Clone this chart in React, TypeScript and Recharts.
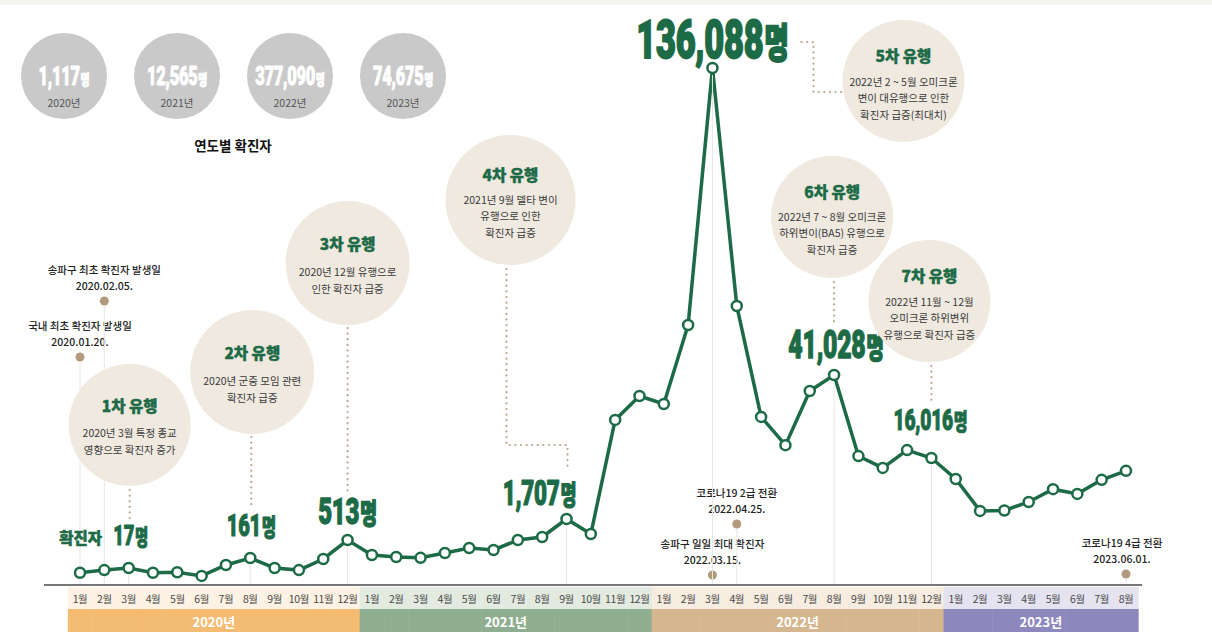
import React from 'react';
import { LineChart, Line, XAxis, YAxis, ReferenceDot } from 'recharts';

// ---------------- DATA ----------------
const periods = [
  '2020-01', '2020-02', '2020-03', '2020-04', '2020-05', '2020-06', '2020-07', '2020-08', '2020-09', '2020-10', '2020-11', '2020-12',
  '2021-01', '2021-02', '2021-03', '2021-04', '2021-05', '2021-06', '2021-07', '2021-08', '2021-09', '2021-10', '2021-11', '2021-12',
  '2022-01', '2022-02', '2022-03', '2022-04', '2022-05', '2022-06', '2022-07', '2022-08', '2022-09', '2022-10', '2022-11', '2022-12',
  '2023-01', '2023-02', '2023-03', '2023-04', '2023-05', '2023-06', '2023-07', '2023-08',
];
// monthly confirmed cases (labelled values exact, others estimated through the chart's scale)
const cases2020 = [8, 13, 17, 8, 9, 2, 60, 161, 17, 13, 147, 513];
const cases2021 = [220, 181, 165, 259, 357, 318, 513, 684, 1707, 854, 27500, 34700];
const cases2022 = [32300, 56500, 136088, 62400, 28400, 19900, 36200, 41028, 16600, 13700, 18400, 16016];
const cases2023 = [11100, 3600, 3700, 5700, 8700, 7600, 10900, 13000];
const cases = [...cases2020, ...cases2021, ...cases2022, ...cases2023];

const yearKeys = ['2020', '2021', '2022', '2023'];
const yearLabels = ['2020년', '2021년', '2022년', '2023년'];
const yearTotals = [1117, 12565, 377090, 74675];

const wavePeriods = ['2020-03', '2020-08', '2020-12', '2021-09', '2022-03', '2022-08', '2022-12'];
const waveTitles = ['1차 유행', '2차 유행', '3차 유행', '4차 유행', '5차 유행', '6차 유행', '7차 유행'];
const waveNotes = [
  ['2020년 3월 특정 종교', '영향으로 확진자 증가'],
  ['2020년 군중 모임 관련', '확진자 급증'],
  ['2020년 12월 유행으로', '인한 확진자 급증'],
  ['2021년 9월 델타 변이', '유행으로 인한', '확진자 급증'],
  ['2022년 2 ~ 5월 오미크론', '변이 대유행으로 인한', '확진자 급증(최대치)'],
  ['2022년 7 ~ 8월 오미크론', '하위변이(BA5) 유행으로', '확진자 급증'],
  ['2022년 11월 ~ 12월', '오미크론 하위변위', '유행으로 확진자 급증'],
];

const eventPeriods = ['2020-01', '2020-02', '2022-03', '2022-04', '2023-08'];
const eventTitles = ['국내 최초 확진자 발생일', '송파구 최초 확진자 발생일', '송파구 일일 최대 확진자', '코로나19 2급 전환', '코로나19 4급 전환'];
const eventDates = ['2020.01.20.', '2020.02.05.', '2022.03.15.', '2022.04.25.', '2023.06.01.'];

// ---------------- STYLE / LAYOUT ----------------
const GREEN = '#1c6b46';
const TAN = '#b49a7c';
const LEADER = '#b9a88f';
const BUBBLE = '#efe9e0';
const GRAY_CIRCLE = '#c9c9c9';
const KR = "'Noto Sans CJK KR', 'Noto Sans', sans-serif";
const NUM = "Roboto, 'Noto Sans', sans-serif";

const CHART_W = 1212;
const CHART_H = 639;
const MARGIN = { top: 68, right: 74, bottom: 14, left: 68 };
const XAXIS_H = 40;
const AXIS_Y = CHART_H - MARGIN.bottom - XAXIS_H;
const X_PAD = 12;
const STEP = (CHART_W - MARGIN.left - MARGIN.right - 2 * X_PAD) / (periods.length - 1);

const yearTints = ['#fdf2e3', '#e3ebe1', '#f6ece0', '#e5e3f0'];
const yearColors = ['#f4bb73', '#8fae8f', '#d6b68f', '#8c87bd'];

// infographic (non-linear) value scale: knots of the drawing's own scale
const scaleKnots = [0, 17, 161, 513, 1707, 16016, 41028, 136088];
const scaleFracs = [0.0155, 0.0329, 0.0522, 0.087, 0.1277, 0.2456, 0.4062, 1];

function createKnotScale(knots: number[], fracs: number[]): any {
  let dom: number[] = [knots[0], knots[knots.length - 1]];
  let rng: number[] = [1, 0];
  const frac = (v: number) => {
    if (v <= knots[0]) return fracs[0];
    for (let i = 1; i < knots.length; i++) {
      if (v <= knots[i]) {
        const t = (v - knots[i - 1]) / (knots[i] - knots[i - 1]);
        return fracs[i - 1] + t * (fracs[i] - fracs[i - 1]);
      }
    }
    return fracs[fracs.length - 1];
  };
  const s: any = (v: any) => {
    const n = Number(v);
    if (!isFinite(n)) return undefined;
    return rng[0] + frac(n) * (rng[1] - rng[0]);
  };
  s.domain = (d?: any) => {
    if (d === undefined) return dom.slice();
    dom = Array.from(d as number[]).map(Number);
    return s;
  };
  s.range = (r?: any) => {
    if (r === undefined) return rng.slice();
    rng = Array.from(r as number[]).map(Number);
    return s;
  };
  s.copy = () => createKnotScale(knots, fracs).domain(dom).range(rng);
  s.ticks = () => knots.slice();
  s.tickFormat = () => (v: any) => String(v);
  s.clamp = () => s;
  s.nice = () => s;
  s.invert = (px: number) => {
    const f = (px - rng[0]) / (rng[1] - rng[0]);
    for (let i = 1; i < fracs.length; i++) {
      if (f <= fracs[i]) {
        const t = (f - fracs[i - 1]) / (fracs[i] - fracs[i - 1]);
        return knots[i - 1] + t * (knots[i] - knots[i - 1]);
      }
    }
    return knots[knots.length - 1];
  };
  return s;
}
const infoScale = createKnotScale(scaleKnots, scaleFracs);

// annotation geometry relative to the data point
const waveLayout = [
  { bubble: [1, -143], r: 61, label: [2, -23], size: 23, leader: [[1, -78], [1, -50]] },
  { bubble: [2, -186], r: 62, label: [1, -22], size: 25, leader: [[1, -121], [1, -52]] },
  { bubble: [0, -277], r: 62, label: [0, -16], size: 30, leader: [[0, -212], [0, -48]] },
  { bubble: [-56, -319], r: 65, label: [-27, -14], size: 28, leader: [[-60, -250], [-60, -74], [1, -74], [1, -48]] },
  { bubble: [191, 13], r: 61, label: [0, -10], size: 43, leader: [[89, -26], [101, -26], [101, 24], [131, 24]] },
  { bubble: [-2, -158], r: 61, label: [2, -17], size: 31, leader: [[0, -93], [0, -50]] },
  { bubble: [-2, -157], r: 61, label: [-1, -28], size: 24, leader: [[0, -92], [0, -56]] },
];
const eventLayout = [
  { dotY: 357, dx: 0 },
  { dotY: 301, dx: 0 },
  { dotY: 575, dx: 0 },
  { dotY: 524, dx: 0 },
  { dotY: 574, dx: -4 },
];

const data = periods.map((p, i) => ({ period: p, cases: cases[i] }));

// ---------------- COMPONENTS ----------------
function BigNum({ x, y, value, size, fill = GREEN, unitRatio = 0.78 }: any) {
  return (
    <g transform={`translate(${x},${y}) scale(0.8,1.23)`}>
      <text
        x={0}
        y={0}
        textAnchor="middle"
        fill={fill}
        stroke={fill}
        strokeWidth={size * 0.035}
        strokeLinejoin="round"
        fontFamily={NUM}
        fontWeight={900}
        fontSize={size}
        letterSpacing={-0.3}
      >
        {Number(value).toLocaleString('en-US')}
        <tspan fontFamily={KR} fontWeight={900} fontSize={size * unitRatio} dx={1}>명</tspan>
      </text>
    </g>
  );
}

function WaveMark({ cx, cy, k }: any) {
  if (cx == null || cy == null) return null;
  const L = waveLayout[k];
  const bx = cx + L.bubble[0];
  const by = cy + L.bubble[1];
  const notes = waveNotes[k];
  const three = notes.length === 3;
  const titleDy = three ? -26 : -20;
  const lineDy = three ? [0, 16, 33] : [8, 25];
  const value = cases[periods.indexOf(wavePeriods[k])];
  return (
    <g>
      <line x1={cx} y1={cy + 7} x2={cx} y2={AXIS_Y} stroke="#e6e6e6" strokeWidth={1} />
      <circle cx={bx} cy={by} r={L.r} fill={BUBBLE} />
      <text x={bx} y={by + titleDy} textAnchor="middle" dominantBaseline="central" fill={GREEN} stroke={GREEN} strokeWidth={0.4} fontFamily={KR} fontWeight={900} fontSize={15.5}>
        {waveTitles[k]}
      </text>
      {notes.map((t, j) => (
        <text key={j} x={bx} y={by + lineDy[j]} textAnchor="middle" dominantBaseline="central" fill="#3a3a3a" fontFamily={KR} fontWeight={400} fontSize={10.5}>
          {t}
        </text>
      ))}
      <polyline
        points={L.leader.map(([dx, dy]) => `${cx + dx},${cy + dy}`).join(' ')}
        fill="none"
        stroke={LEADER}
        strokeWidth={2.2}
        strokeDasharray="0.1 5.5"
        strokeLinecap="round"
      />
      <BigNum x={cx + L.label[0]} y={cy + L.label[1]} value={value} size={L.size} />
      {k === 0 && (
        <text x={cx - 48} y={cy - 24} textAnchor="middle" fill={GREEN} stroke={GREEN} strokeWidth={0.5} fontFamily={KR} fontWeight={900} fontSize={15.5}>
          확진자
        </text>
      )}
    </g>
  );
}

function EventMark({ cx, k }: any) {
  if (cx == null) return null;
  const L = eventLayout[k];
  const tx = cx + L.dx;
  return (
    <g>
      <line x1={cx} y1={L.dotY + 5} x2={cx} y2={AXIS_Y} stroke="#e6e6e6" strokeWidth={1} />
      <circle cx={cx} cy={L.dotY} r={4.5} fill={TAN} />
      <text x={tx} y={L.dotY - 32} textAnchor="middle" dominantBaseline="central" fill="#222" fontFamily={KR} fontWeight={500} fontSize={10.5}>
        {eventTitles[k]}
      </text>
      <text x={tx} y={L.dotY - 16} textAnchor="middle" dominantBaseline="central" fill="#222" fontFamily={KR} fontWeight={500} fontSize={10.5}>
        {eventDates[k]}
      </text>
    </g>
  );
}

function MonthTick(props: any) {
  const { x, payload } = props;
  const period = String(payload && payload.value);
  const idx = periods.indexOf(period);
  if (idx < 0) return null;
  const yy = period.slice(0, 4);
  const mm = Number(period.slice(5, 7));
  const yi = yearKeys.indexOf(yy);
  const isLastOfYear = idx === periods.length - 1 || periods[idx + 1].slice(0, 4) !== yy;
  const count = periods.filter((p) => p.startsWith(yy)).length;
  const left = x - STEP / 2;
  return (
    <g>
      {idx === 0 && <line x1={44} x2={1142} y1={AXIS_Y} y2={AXIS_Y} stroke="#4a4a4a" strokeWidth={1.5} />}
      <rect x={left} y={AXIS_Y + 2} width={STEP + 0.5} height={22} fill={yearTints[yi]} />
      <rect x={left} y={AXIS_Y + 24} width={STEP + 0.5} height={23} fill={yearColors[yi]} />
      <text x={x} y={AXIS_Y + 13} textAnchor="middle" dominantBaseline="central" fill="#4a4a4a" fontFamily={KR} fontSize={10.5} letterSpacing={-0.4}>
        {`${mm}월`}
      </text>
      {isLastOfYear && (
        <text x={x - ((count - 1) * STEP) / 2} y={AXIS_Y + 36} textAnchor="middle" dominantBaseline="central" fill="#fff" fontFamily={KR} fontWeight={700} fontSize={13}>
          {yearLabels[yi]}
        </text>
      )}
    </g>
  );
}

function Summary() {
  return (
    <svg width={CHART_W} height={CHART_H} style={{ position: 'absolute', left: 0, top: 0 }}>
      <rect x={0} y={0} width={CHART_W} height={5} fill="#f4f4ee" />
      {yearTotals.map((v, i) => {
        const cx = 64 + i * 113;
        return (
          <g key={i}>
            <circle cx={cx} cy={76} r={43} fill={GRAY_CIRCLE} />
            <BigNum x={cx} y={85} value={v} size={20.5} fill="#fff" unitRatio={0.6} />
            <text x={cx} y={102} textAnchor="middle" dominantBaseline="central" fill="#555" fontFamily={KR} fontSize={10.5}>
              {yearLabels[i]}
            </text>
          </g>
        );
      })}
      <text x={233} y={145} textAnchor="middle" dominantBaseline="central" fill="#111" fontFamily={KR} fontWeight={700} fontSize={13.5}>
        연도별 확진자
      </text>
    </svg>
  );
}

export default function App() {
  return (
    <div style={{ position: 'absolute', left: 0, top: 0, width: CHART_W, height: CHART_H, background: '#fff', overflow: 'hidden' }}>
      <Summary />
      <div style={{ position: 'absolute', left: 0, top: 0 }}>
        <LineChart width={CHART_W} height={CHART_H} data={data} margin={MARGIN}>
          <XAxis
            dataKey="period"
            interval={0}
            tickLine={false}
            axisLine={false}
            height={XAXIS_H}
            padding={{ left: X_PAD, right: X_PAD }}
            tick={<MonthTick />}
          />
          <YAxis hide type="number" domain={[0, 136088]} scale={infoScale} />
          {eventPeriods.map((p, k) => (
            <ReferenceDot key={`e${k}`} x={p} y={0} r={1} ifOverflow="visible" shape={(sp: any) => <EventMark cx={sp.cx} k={k} />} />
          ))}
          {wavePeriods.map((p, k) => (
            <ReferenceDot
              key={`w${k}`}
              x={p}
              y={cases[periods.indexOf(p)]}
              r={1}
              ifOverflow="visible"
              shape={(sp: any) => <WaveMark cx={sp.cx} cy={sp.cy} k={k} />}
            />
          ))}
          <Line
            type="linear"
            dataKey="cases"
            stroke={GREEN}
            strokeWidth={3.5}
            dot={{ r: 5, fill: '#fff', stroke: GREEN, strokeWidth: 2.5 }}
            activeDot={false}
            isAnimationActive={false}
          />
        </LineChart>
      </div>
    </div>
  );
}
